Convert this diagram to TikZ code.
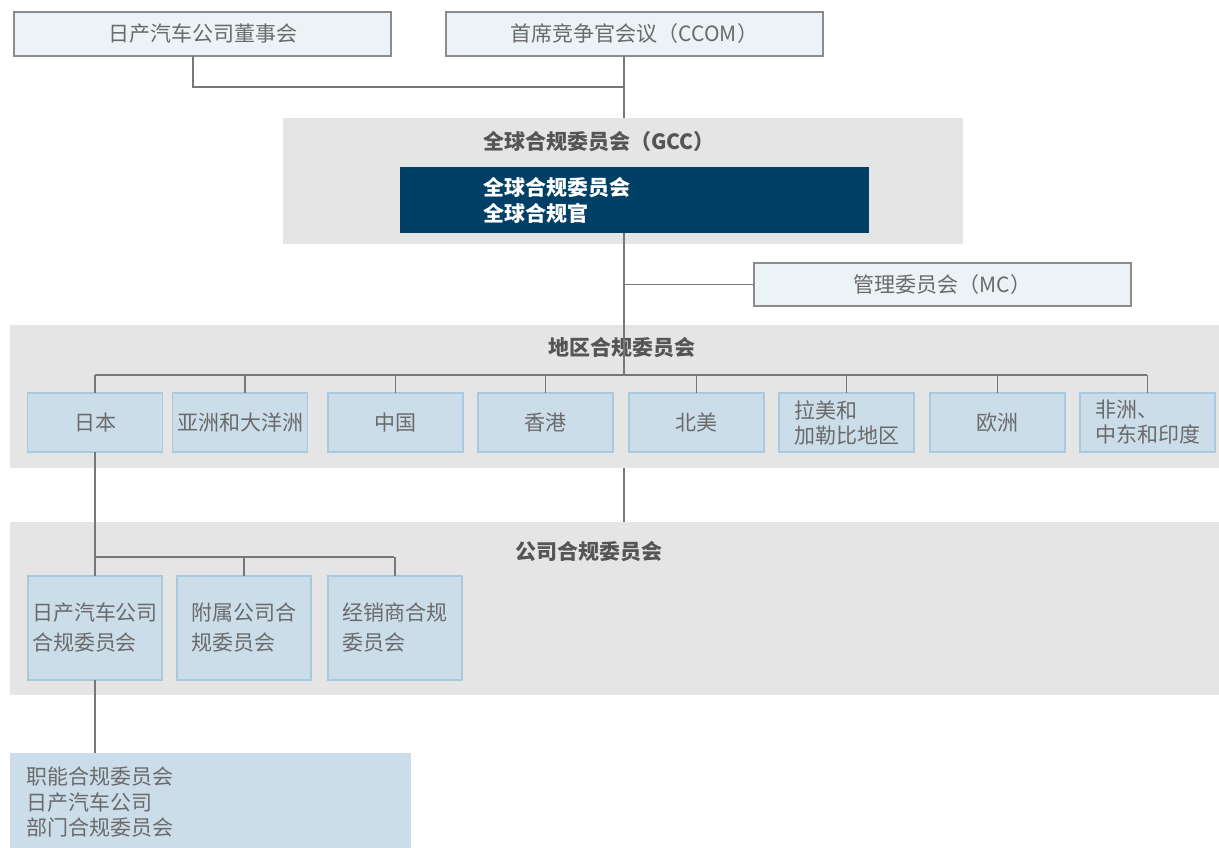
\documentclass[tikz,border=0pt]{standalone}
\usepackage{fontspec}
\setmainfont{Noto Sans CJK SC}
\definecolor{linegray}{HTML}{777777}
\definecolor{boxborder}{HTML}{8C8C8C}
\definecolor{topfill}{HTML}{EBF3F6}
\definecolor{panelgray}{HTML}{E5E5E5}
\definecolor{regfill}{HTML}{CCDDEA}
\definecolor{regborder}{HTML}{A9C9DF}
\definecolor{darkblue}{HTML}{003F66}
\definecolor{txtgray}{HTML}{6A6A6A}
\definecolor{titlegray}{HTML}{555555}
\tikzset{
  every node/.style={inner sep=0pt, outer sep=0pt, font=\fontsize{21}{25}\selectfont},
  topbox/.style={draw=boxborder, fill=topfill, line width=1.5pt, text=txtgray},
  panel/.style={fill=panelgray},
  regbox/.style={draw=regborder, fill=regfill, line width=1.5pt, text=txtgray, minimum width=135pt, minimum height=59pt},
  compbox/.style={draw=regborder, fill=regfill, line width=1.5pt, text=txtgray, minimum width=134pt, minimum height=104pt, align=left, font=\fontsize{21}{30}\selectfont},
  ptitle/.style={text=titlegray, font=\fontsize{21}{25}\selectfont\bfseries},
  conn/.style={draw=linegray, line width=1.6pt}
}
\begin{document}
\begin{tikzpicture}[x=1pt,y=-1pt]
\useasboundingbox (0,0) rectangle (1219,848);
% top boxes
\node[topbox, minimum width=377pt, minimum height=44pt] (board) at (202.5,34) {日产汽车公司董事会};
\node[topbox, minimum width=377pt, minimum height=44pt] (ccom) at (634.5,34) {首席竞争官会议（CCOM）};
% GCC panel
\node[panel, minimum width=680pt, minimum height=126pt] (gcc) at (623,181) {};
\node[ptitle, anchor=west] (gcctitle) at (483,142) {全球合规委员会（GCC）};
\node[fill=darkblue, minimum width=469pt, minimum height=66pt] (dark) at (634.5,200) {};
\node[anchor=west, text=white, align=left, font=\fontsize{21}{26}\selectfont\bfseries] (darktext) at (483,200) {全球合规委员会\\全球合规官};
% MC
\node[topbox, minimum width=377pt, minimum height=43pt] (mc) at (942.5,284.5) {管理委员会（MC）};
% regional panel
\node[panel, minimum width=1209pt, minimum height=143pt] (reg) at (614.5,396.5) {};
\node[ptitle] (regtitle) at (622,348) {地区合规委员会};
\node[regbox] (r1) at (95,422.5) {日本};
\node[regbox] (r2) at (240,422.5) {亚洲和大洋洲};
\node[regbox] (r3) at (395.5,422.5) {中国};
\node[regbox] (r4) at (545.5,422.5) {香港};
\node[regbox] (r5) at (696.5,422.5) {北美};
\node[regbox, align=left] (r6) at (846.5,422.5) {拉美和\\加勒比地区};
\node[regbox] (r7) at (997.5,422.5) {欧洲};
\node[regbox, align=left] (r8) at (1147.5,422.5) {非洲、\\中东和印度};
% company panel
\node[panel, minimum width=1209pt, minimum height=173pt] (comp) at (614.5,608.5) {};
\node[ptitle] (comptitle) at (589,552) {公司合规委员会};
\node[compbox] (c1) at (95,628) {日产汽车公司\\合规委员会};
\node[compbox] (c2) at (244,628) {附属公司合\\规委员会};
\node[compbox] (c3) at (395,628) {经销商合规\\委员会};
% bottom box
\node[fill=regfill, minimum width=401pt, minimum height=100pt] (bot) at (210.5,803) {};
\node[anchor=west, text=txtgray, align=left, font=\fontsize{21}{25.5}\selectfont] (bottext) at (27,802.5) {职能合规委员会\\日产汽车公司\\部门合规委员会};
% coordinates
\coordinate (tx) at (624,87);
\coordinate (bus) at (624,375);
\coordinate (busL) at (95,375);
\coordinate (busR) at (1147,375);
\coordinate (cbusL) at (95,557);
\coordinate (cbusR) at (394,557);
% connectors
\draw[conn] ([xshift=-9.5pt]board.south) |- (tx);
\draw[conn] (ccom.south -| tx) -- (tx) -- (gcc.north -| tx);
\draw[conn] (dark.south -| tx) -- (bus);
\draw[conn] (mc.west) -- (mc.west -| tx);
\draw[conn] (busL) -- (busR);
\draw[conn] (r1.north) -- (r1.north |- busL);
\draw[conn] ([xshift=5pt]r2.north) -- ([xshift=5pt]r2.north |- busL);
\draw[conn] (r3.north) -- (r3.north |- busL);
\draw[conn] (r4.north) -- (r4.north |- busL);
\draw[conn] (r5.north) -- (r5.north |- busL);
\draw[conn] (r6.north) -- (r6.north |- busL);
\draw[conn] (r7.north) -- (r7.north |- busL);
\draw[conn] (r8.north) -- (r8.north |- busR);
\draw[conn] (reg.south -| tx) -- (comp.north -| tx);
\draw[conn] (r1.south) -- (c1.north);
\draw[conn] (cbusL) -- (cbusR);
\draw[conn] (c2.north) -- (c2.north |- cbusL);
\draw[conn] (c3.north) -- (c3.north |- cbusR);
\draw[conn] (c1.south) -- (bot.north -| c1.south);
\end{tikzpicture}
\end{document}
